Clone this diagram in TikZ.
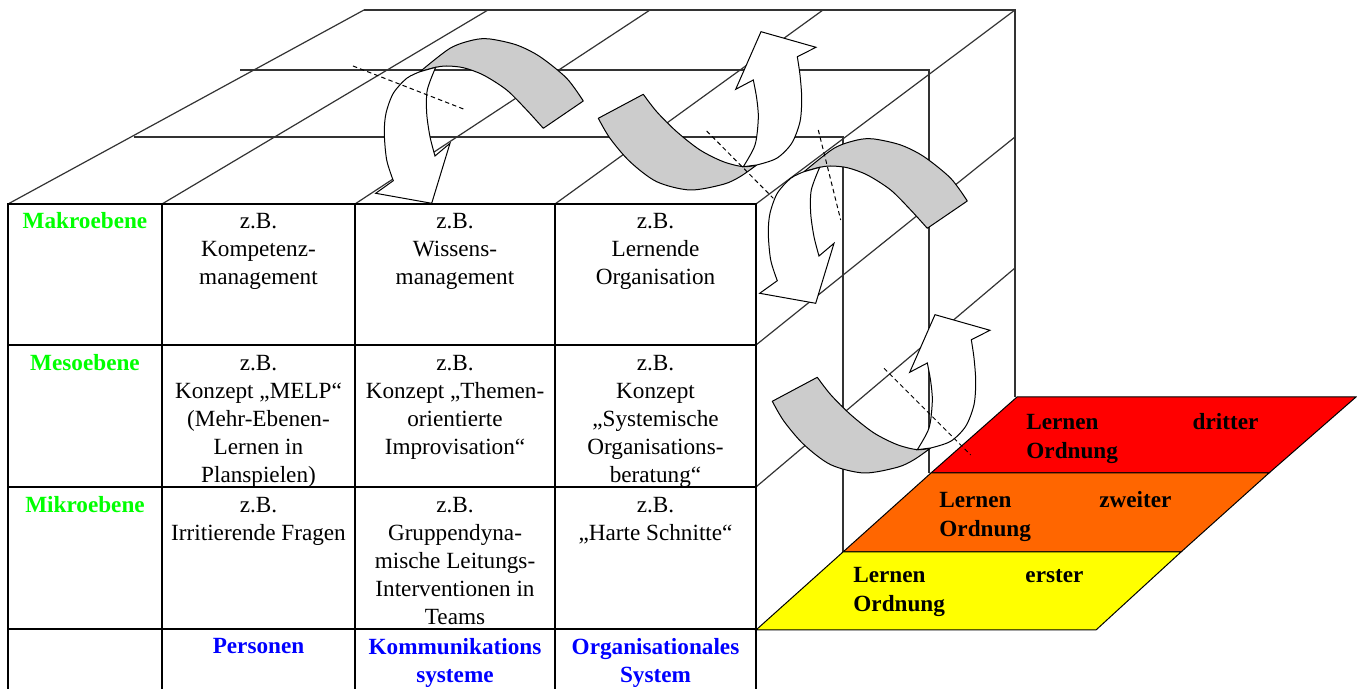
\documentclass[tikz,border=0pt]{standalone}
\usepackage{fontspec}
\setmainfont{Liberation Serif}
\definecolor{levelgreen}{RGB}{0,255,0}
\definecolor{axisblue}{RGB}{0,0,255}
\definecolor{bandgray}{RGB}{204,204,204}
\definecolor{orderthree}{RGB}{255,0,0}
\definecolor{ordertwo}{RGB}{255,102,0}
\definecolor{orderone}{RGB}{255,255,0}
\tikzset{
  cubeline/.style={draw=black!80, line width=0.6pt},
  gridline/.style={draw=black, line width=1.1pt},
  band/.style={fill=bandgray, draw=black, line width=0.5pt, line join=round},
  arrowbody/.style={fill=white, draw=black, line width=0.5pt, line join=miter},
  axisline/.style={draw=black, line width=0.5pt, dash pattern=on 2.2pt off 1.6pt},
  layer/.style={draw=black, line width=0.5pt},
  cell/.style={anchor=north, inner sep=0pt, align=center, font=\fontsize{11.6}{14}\selectfont},
  level/.style={cell, font=\fontsize{11.6}{14}\selectfont\bfseries, text=levelgreen},
  system/.style={cell, font=\fontsize{11.6}{14}\selectfont\bfseries, text=axisblue},
  ordertext/.style={anchor=north west, inner sep=0pt, align=left, font=\fontsize{11.6}{14.5}\selectfont\bfseries},
  % ribbon arrow curling over and pointing down
  pics/turndown/.style={code={
    \path[band] (420,71.7)
      -- plot[smooth] coordinates {(420,71.7) (450,48.3) (473.3,40) (490,39) (516.7,45) (540,56.7) (566.7,78.3) (583.3,101)}
      -- (543.3,128.3)
      -- plot[smooth] coordinates {(543.3,128.3) (526.7,110) (506.7,90) (483.3,75) (463.3,67.7) (446.7,66) (435.7,67.3) (420,71.7)}
      -- cycle;
    \path[arrowbody] (420,71.7)
      -- plot[smooth] coordinates {(420,71.7) (406.7,78.3) (393.3,93.3) (386,113.3) (384.3,133.3) (386.7,160) (393.3,180.7)}
      -- (375.7,193.3) -- (431.7,203.3) -- (450,143.3) -- (435,156)
      -- plot[smooth] coordinates {(435,156) (430,136.7) (426.7,113.3) (427.3,90) (435.7,67.3)}
      -- cycle;
  }},
  % ribbon arrow curling under and pointing up
  pics/turnup/.style={code={
    \path[band] (598.3,118.3) -- (643.3,94.3)
      -- plot[smooth] coordinates {(643.3,94.3) (656.7,111.7) (676.7,131.7) (700,150) (723.3,161.7) (743.3,166.7) (756.7,165)}
      -- plot[smooth] coordinates {(756.7,165) (740,176.7) (723.3,184.3) (690,190) (656.7,181.7) (630,161.7) (610,138.3) (598.3,118.3)}
      -- cycle;
    \path[arrowbody] (756.7,165)
      -- plot[smooth] coordinates {(756.7,165) (776.7,158.3) (791.7,143.3) (800,121.7) (801.7,98.3) (800,75) (797.3,56.7)}
      -- (816,47.3) -- (761,31.7) -- (735.7,89.3) -- (753.3,80)
      -- plot[smooth] coordinates {(753.3,80) (756.7,98.3) (758.3,118.3) (755,145) (743.3,166.7)}
      -- cycle;
  }},
}
\begin{document}
\begin{tikzpicture}[x=0.5pt, y=-0.5pt]
\useasboundingbox (0,0) rectangle (1357,689);

% receding edges of the top face
\draw[cubeline] (8,204) -- (364,10);
\draw[cubeline] (162,204) -- (488,10);
\draw[cubeline] (355,204) -- (650,10);
\draw[cubeline] (555,204) -- (823,10);
\draw[cubeline] (756,204) -- (1015,10);
% cross lines of the top face running on into the side face
\draw[cubeline] (134,137) -- (843,137) -- (843,552);
\draw[cubeline] (240,70) -- (929,70) -- (929,473);
\draw[cubeline] (364,10) -- (1015,10) -- (1015,397);
% receding edges of the side face
\draw[cubeline] (756,345) -- (1015,137);
\draw[cubeline] (756,487) -- (1015,268);

% the three learning levels
\filldraw[layer, fill=orderthree] (1017,397) -- (1356,397) -- (1269,473) -- (931,473) -- cycle;
\filldraw[layer, fill=ordertwo] (931,473) -- (1269,473) -- (1181,552) -- (843,552) -- cycle;
\filldraw[layer, fill=orderone] (843,552) -- (1181,552) -- (1096,630) -- (756,630) -- cycle;

% front face: the table
\draw[gridline] (8,689) -- (8,204) -- (756,204) -- (756,689);
\draw[gridline] (162,204) -- (162,689);
\draw[gridline] (355,204) -- (355,689);
\draw[gridline] (555,204) -- (555,689);
\draw[gridline] (8,345) -- (756,345);
\draw[gridline] (8,487) -- (756,487);
\draw[gridline] (8,629) -- (756,629);

% ribbon arrows
\pic at (0,0) {turndown};
\pic at (0,0) {turnup};
\pic at (384,100) {turndown};
\pic at (174,283) {turnup};

% rotation axes
\draw[axisline] (353,66) -- (466,110);
\draw[axisline] (706.7,131) -- (773.3,198.3);
\draw[axisline] (818.3,130) -- (840.7,220);
\draw[axisline] (884,368.3) -- (970.7,455);

% row labels
\node[level] (makro) at (85,212) {Makroebene};
\node[level] (meso) at (85,354) {Mesoebene};
\node[level] (mikro) at (85,496) {Mikroebene};

% cells
\node[cell] (kompetenz) at (258.5,213) {z.B.\\Kompetenz-\\management};
\node[cell] (wissen) at (455,213) {z.B.\\Wissens-\\management};
\node[cell] (lernorg) at (655.5,213) {z.B.\\Lernende\\Organisation};
\node[cell] (melp) at (258.5,355) {z.B.\\Konzept „MELP“\\(Mehr-Ebenen-\\Lernen in\\Planspielen)};
\node[cell] (themen) at (455,355) {z.B.\\Konzept „Themen-\\orientierte\\Improvisation“};
\node[cell] (beratung) at (655.5,355) {z.B.\\Konzept\\„Systemische\\Organisations-\\beratung“};
\node[cell] (fragen) at (258.5,497) {z.B.\\Irritierende Fragen};
\node[cell] (gruppe) at (455,497) {z.B.\\Gruppendyna-\\mische Leitungs-\\Interventionen in\\Teams};
\node[cell] (schnitte) at (655.5,497) {z.B.\\„Harte Schnitte“};

% column labels
\node[system] (personen) at (258.5,638) {Personen};
\node[system] (kommunikation) at (455,638) {Kommunikations\\systeme};
\node[system] (organisation) at (655.5,638) {Organisationales\\System};

% level labels
\node[ordertext] (dritte) at (1026,413) {\hbox to 116pt{Lernen\hfill dritter}\\Ordnung};
\node[ordertext] (zweite) at (939,491) {\hbox to 116pt{Lernen\hfill zweiter}\\Ordnung};
\node[ordertext] (erste) at (853,567) {\hbox to 115pt{Lernen\hfill erster}\\Ordnung};
\end{tikzpicture}
\end{document}
